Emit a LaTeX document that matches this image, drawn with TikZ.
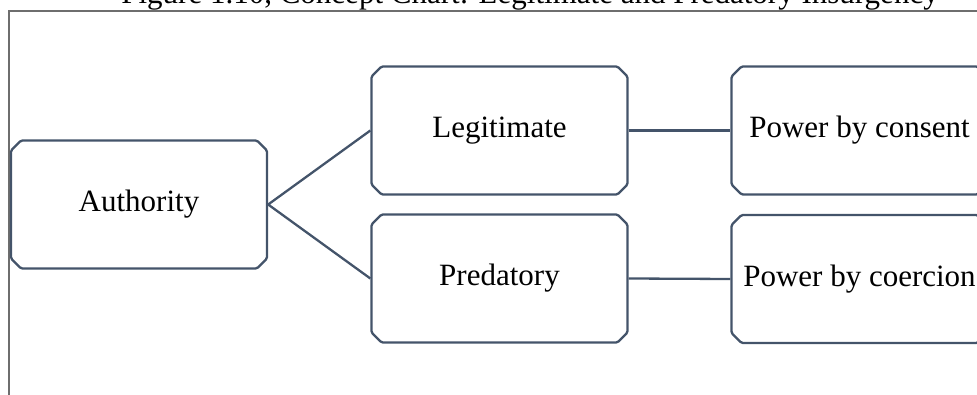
\documentclass[tikz,border=0pt]{standalone}
\usepackage{fontspec}
\setmainfont{Liberation Serif}
\usetikzlibrary{shapes.misc}
\definecolor{boxline}{HTML}{44546A}
\definecolor{frameline}{HTML}{6E6E6E}
\tikzset{
  conceptbox/.style={chamfered rectangle, chamfered rectangle xsep=5pt,
    chamfered rectangle ysep=5pt, draw=boxline, line width=2.3pt,
    line join=round, rounded corners=1.5pt, fill=white, inner sep=0pt,
    minimum width=256pt, minimum height=128pt,
    font=\fontsize{31}{37}\selectfont},
  link/.style={draw=boxline, line width=2.3pt, sharp corners},
  framerule/.style={draw=frameline, line width=1.4pt}
}
\begin{document}
\begin{tikzpicture}[x=1pt,y=-1pt]
  \useasboundingbox (0,0) rectangle (977,395);
  \clip (0,0) rectangle (977,395);

  % page frame and caption
  \coordinate (fTL) at (9,11);
  \coordinate (fTR) at (980,11);
  \coordinate (fBL) at (9,400);
  \draw[framerule] (fBL) -- (fTL) -- (fTR);
  \node[anchor=base, inner sep=0pt, font=\fontsize{31}{37}\selectfont]
    (caption) at (530,4) {Figure 1.10, Concept Chart: Legitimate and Predatory Insurgency};

  % concept boxes
  \node[conceptbox] (auth)  at (139,204.5) {Authority};
  \node[conceptbox] (legit) at (499.5,130.5) {Legitimate};
  \node[conceptbox] (pred)  at (499.5,278.5) {Predatory};
  \node[conceptbox] (cons)  at (859.5,130.5) {Power by consent};
  \node[conceptbox] (coer)  at (859.5,279) {Power by coercion};

  % connectors
  \draw[link] (legit.west) -- (auth.east) -- (pred.west);
  \draw[link] (legit.east) -- (cons.west);
  \draw[link] (pred.east) -- (coer.west);
\end{tikzpicture}
\end{document}
